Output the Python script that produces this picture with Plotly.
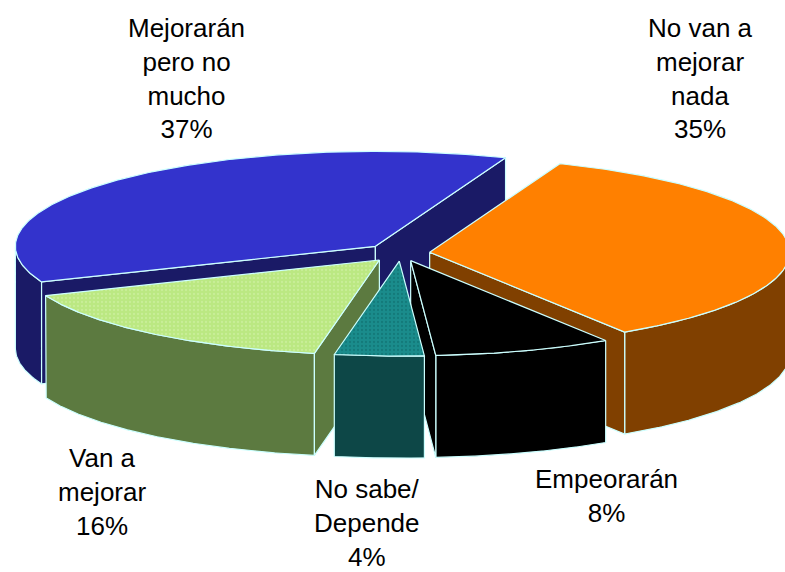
import numpy as np
import plotly.graph_objects as go

# Data
categories = ["No van a<br>mejorar<br>nada", "Empeorarán", "No sabe/<br>Depende", "Van a<br>mejorar", "Mejorarán<br>pero no<br>mucho"]
values = [35, 8, 4, 16, 37]

# Style
top_colors = ["#FF8000", "#000000", "#1A8C8C", "#BBE882", "#3333CC"]
side_colors = ["#804000", "#000000", "#0D4747", "#5C7A40", "#1A1A66"]
explode = [0.08, 0.085, 0.085, 0.095, 0.10]
label_x = [700, 606, 367, 102, 186]
label_y = [78, 496, 523, 492, 78]
draw_order = [4, 0, 3, 1, 2]
outline = "#CCFFFF"

# Geometry of the projected pie
CX, CY, RX, RY, DEPTH = 401, 253, 360, 95, 102
START = 68.8

fig = go.Figure()


def add_poly(xs, ys, color, pattern=None):
    kw = {}
    if pattern:
        kw["fillpattern"] = dict(shape=".", size=4, solidity=0.25, fgcolor=pattern, bgcolor=color, fillmode="replace")
    fig.add_trace(go.Scatter(x=xs, y=ys, mode="lines", fill="toself", fillcolor=color,
                             line=dict(color=outline, width=1.2), hoverinfo="skip", showlegend=False, **kw))


def rim(ax, ay, t):
    r = np.radians(t)
    return ax + RX * np.cos(r), ay - RY * np.sin(r)


angles = START - np.cumsum([0] + values) * 3.6

for i in draw_order:
    ts, te = angles[i], angles[i + 1]
    mid = np.radians((ts + te) / 2)
    ax = CX + explode[i] * RX * np.cos(mid)
    ay = CY - explode[i] * RY * np.sin(mid)

    # outer wall: only the part facing the viewer
    t = np.linspace(ts, te, 240)
    vis = t[np.sin(np.radians(t)) <= 0]
    if len(vis):
        x, y = rim(ax, ay, vis)
        add_poly(np.r_[x, x[::-1], x[0]], np.r_[y, y[::-1] + DEPTH, y[0]], side_colors[i])

    # cut faces facing the viewer
    if np.cos(np.radians(ts)) < 0:
        ex, ey = rim(ax, ay, ts)
        add_poly([ax, ex, ex, ax, ax], [ay, ey, ey + DEPTH, ay + DEPTH, ay], side_colors[i])
    if np.cos(np.radians(te)) > 0:
        ex, ey = rim(ax, ay, te)
        add_poly([ax, ex, ex, ax, ax], [ay, ey, ey + DEPTH, ay + DEPTH, ay], side_colors[i])

    # top face
    x, y = rim(ax, ay, t)
    pattern = {2: "#137A7A", 3: "#C9EE98"}.get(i)
    add_poly(np.r_[ax, x, ax], np.r_[ay, y, ay], top_colors[i], pattern)

for name, v, lx, ly in zip(categories, values, label_x, label_y):
    fig.add_annotation(x=lx, y=ly, xref="x", yref="y", text=f"{name}<br>{v}%", showarrow=False,
                       align="center", xanchor="center", yanchor="middle",
                       font=dict(family="Liberation Sans", size=26, color="#000000"))

fig.update_layout(
    width=785, height=572, margin=dict(l=0, r=0, t=0, b=0),
    paper_bgcolor="white", plot_bgcolor="white", showlegend=False,
    xaxis=dict(range=[0, 785], visible=False, fixedrange=True),
    yaxis=dict(range=[572, 0], visible=False, fixedrange=True),
)
fig.write_html("out.html", post_script="document.body.style.margin='0';", config={"displayModeBar": False})
